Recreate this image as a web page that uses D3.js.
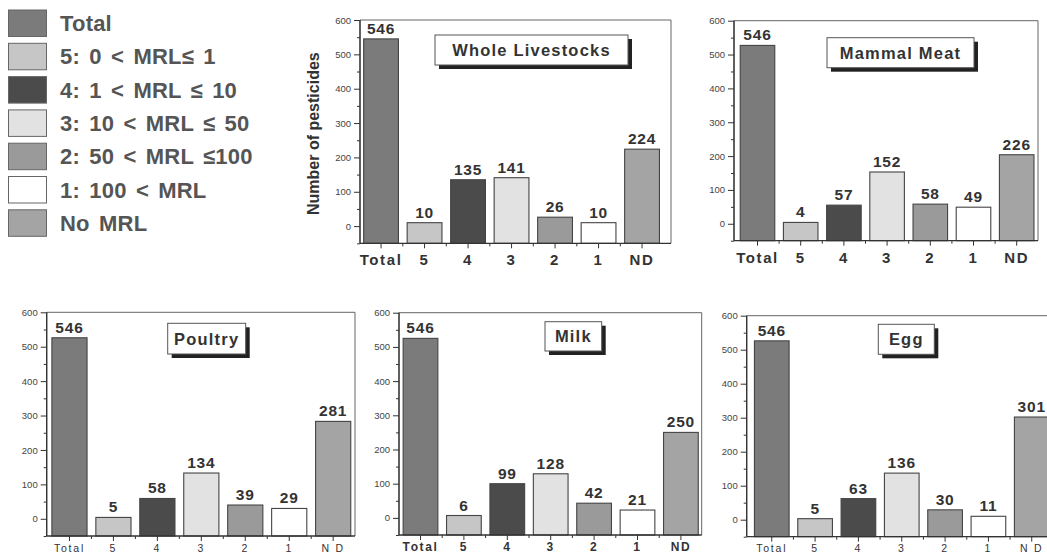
<!DOCTYPE html>
<html>
<head>
<meta charset="utf-8">
<script src="https://cdn.jsdelivr.net/npm/d3@7"></script>
<style>
  body { margin: 0; background: #fff; }
  svg { display: block; font-family: "Liberation Sans", Arial, sans-serif; }
</style>
</head>
<body>
<svg id="chart" width="1047" height="554"></svg>
<script>
// Categories and tick values
const categories = ["Total", "5", "4", "3", "2", "1", "ND"];
const yTicks = [0, 100, 200, 300, 400, 500, 600];
const yMinorTicks = [-50, 50, 150, 250, 350, 450, 550];

// Legend
const legendLabels = ["Total", "5: 0 < MRL\u2264 1", "4: 1 < MRL \u2264 10", "3: 10 < MRL \u2264 50",
  "2: 50 < MRL \u2264100", "1: 100 < MRL", "No MRL"];

// Printed value labels, per panel
const labelsWhole = [546, 10, 135, 141, 26, 10, 224];
const labelsMammal = [546, 4, 57, 152, 58, 49, 226];
const labelsPoultry = [546, 5, 58, 134, 39, 29, 281];
const labelsMilk = [546, 6, 99, 128, 42, 21, 250];
const labelsEgg = [546, 5, 63, 136, 30, 11, 301];

// Bar heights as drawn in the picture
const barsWhole = [545, 10, 135, 141, 26, 10, 224];
const barsMammal = [527, 4, 55, 153, 58, 49, 204];
const barsPoultry = [526, 4, 59, 133, 40, 30, 283];
const barsMilk = [525, 7, 100, 129, 43, 23, 250];
const barsEgg = [526, 3, 62, 137, 29, 10, 302];

// Fill colours
const colors = ["#7b7b7b", "#c6c6c6", "#4b4b4b", "#e2e2e2", "#9a9a9a", "#ffffff", "#a4a4a4"];

const panels = [
  { title: "Whole Livestocks", labels: labelsWhole, bars: barsWhole,
    left: 360, right: 671, top: 20, bottom: 243.3, bandStart: 359.3, step: 43.5,
    box: [435, 35, 193, 30], bold: true, xFont: 15, xBase: 21.5, yLabel: "Number of pesticides" },
  { title: "Mammal Meat", labels: labelsMammal, bars: barsMammal,
    left: 734, right: 1038, top: 20.7, bottom: 240.7, bandStart: 735.9, step: 43.2,
    box: [827, 37.7, 147, 30], bold: true, xFont: 15, xBase: 22 },
  { title: "Poultry", labels: labelsPoultry, bars: barsPoultry,
    left: 46.7, right: 355, top: 312.3, bottom: 536, bandStart: 47.5, step: 43.95,
    box: [167.7, 323.3, 78, 30.7], bold: false, xFont: 10.5, xBase: 15.5 },
  { title: "Milk", labels: labelsMilk, bars: barsMilk,
    left: 399, right: 701.7, top: 312.7, bottom: 535, bandStart: 398.8, step: 43.4,
    box: [545, 321.7, 56.7, 29.3], bold: true, xFont: 12, xBase: 15.5 },
  { title: "Egg", labels: labelsEgg, bars: barsEgg,
    left: 746.7, right: 1062, top: 315.7, bottom: 536.7, bandStart: 750.1, step: 43.33,
    box: [878.3, 324.3, 56, 30], bold: false, xFont: 10.5, xBase: 15 }
];

const svg = d3.select("#chart");

// Legend
const legend = svg.append("g").attr("class", "legend");
legendLabels.forEach((lab, i) => {
  const yTop = 10 + i * 33.3;
  legend.append("rect")
    .attr("x", 8.5).attr("y", yTop)
    .attr("width", 38).attr("height", 26.5)
    .attr("fill", colors[i]).attr("stroke", "#666").attr("stroke-width", 1);
  legend.append("text")
    .attr("x", 60).attr("y", yTop + 21)
    .attr("font-size", 22).attr("font-weight", "bold")
    .attr("letter-spacing", 0.2)
    .attr("word-spacing", 3)
    .attr("fill", "#555")
    .text(lab);
});

panels.forEach(drawPanel);

function drawPanel(p) {
  const g = svg.append("g");

  const y = d3.scaleLinear().domain([-50, 600]).range([p.bottom, p.top]);
  const x = d3.scaleBand()
    .domain(categories)
    .range([p.bandStart, p.bandStart + p.step * categories.length])
    .paddingInner(0.2).paddingOuter(0.1);

  // Bars
  g.selectAll("rect.bar")
    .data(categories)
    .join("rect")
    .attr("class", "bar")
    .attr("x", (d) => x(d))
    .attr("width", x.bandwidth())
    .attr("y", (d, i) => y(p.bars[i]))
    .attr("height", (d, i) => p.bottom - y(p.bars[i]))
    .attr("fill", (d, i) => colors[i])
    .attr("stroke", "#444")
    .attr("stroke-width", 1.1);

  // Value labels
  g.selectAll("text.val")
    .data(categories)
    .join("text")
    .attr("class", "val")
    .attr("x", (d) => x(d) + x.bandwidth() / 2)
    .attr("y", (d, i) => y(p.bars[i]) - 5)
    .attr("text-anchor", "middle")
    .attr("font-size", 15.5).attr("font-weight", "bold")
    .attr("letter-spacing", 0.8)
    .attr("fill", "#333")
    .text((d, i) => p.labels[i]);

  // Frame
  g.append("path")
    .attr("d", `M${p.left},${p.bottom}V${p.top}H${p.right}V${p.bottom}`)
    .attr("fill", "none").attr("stroke", "#666").attr("stroke-width", 1);
  g.append("line")
    .attr("x1", p.left).attr("x2", p.right)
    .attr("y1", p.bottom).attr("y2", p.bottom)
    .attr("stroke", "#333").attr("stroke-width", 1.3);
  g.append("line")
    .attr("x1", p.left).attr("x2", p.left)
    .attr("y1", p.top).attr("y2", p.bottom)
    .attr("stroke", "#333").attr("stroke-width", 1.3);

  // Y axis
  const yAxis = g.append("g")
    .attr("transform", `translate(${p.left},0)`)
    .call(d3.axisLeft(y).tickValues(yTicks).tickSize(6).tickPadding(3));
  yAxis.select(".domain").remove();
  yAxis.selectAll("line").attr("stroke", "#333");
  yAxis.selectAll("text")
    .attr("font-size", 9.5).attr("fill", "#444")
    .attr("font-family", "Liberation Sans, Arial, sans-serif");

  const yMinor = g.append("g")
    .attr("transform", `translate(${p.left},0)`)
    .call(d3.axisLeft(y).tickValues(yMinorTicks).tickSize(3).tickFormat(""));
  yMinor.select(".domain").remove();
  yMinor.selectAll("line").attr("stroke", "#333");

  // X axis
  const xAxis = g.append("g")
    .attr("transform", `translate(0,${p.bottom})`)
    .call(d3.axisBottom(x).tickSize(5).tickFormat(""));
  xAxis.select(".domain").remove();
  xAxis.selectAll("line").attr("stroke", "#333");

  // minor ticks at band boundaries
  const gap = x.step() * x.paddingInner();
  const bounds = categories.slice(0, -1).map((c) => x(c) + x.bandwidth() + gap / 2);
  g.selectAll("line.xminor")
    .data(bounds)
    .join("line")
    .attr("class", "xminor")
    .attr("x1", (d) => d).attr("x2", (d) => d)
    .attr("y1", p.bottom).attr("y2", p.bottom + 3)
    .attr("stroke", "#333");

  g.selectAll("text.xlab")
    .data(categories)
    .join("text")
    .attr("class", "xlab")
    .attr("x", (d) => x(d) + x.bandwidth() / 2)
    .attr("y", p.bottom + p.xBase)
    .attr("text-anchor", "middle")
    .attr("font-size", p.xFont)
    .attr("font-weight", p.bold ? "bold" : "normal")
    .attr("letter-spacing", p.bold ? 1.6 : 1.8)
    .attr("fill", "#333")
    .text((d) => (p.bold ? d : d === "ND" ? "N D" : d));

  // Title box with shadow
  const [bx, by, bw, bh] = p.box;
  g.append("rect")
    .attr("x", bx + 4).attr("y", by + 4)
    .attr("width", bw).attr("height", bh)
    .attr("fill", "#222");
  g.append("rect")
    .attr("x", bx).attr("y", by)
    .attr("width", bw).attr("height", bh)
    .attr("fill", "#fff").attr("stroke", "#555").attr("stroke-width", 1);
  g.append("text")
    .attr("x", bx + bw / 2).attr("y", by + bh / 2 + 6)
    .attr("text-anchor", "middle")
    .attr("font-size", 16.5).attr("font-weight", "bold")
    .attr("letter-spacing", 1.2)
    .attr("fill", "#333")
    .text(p.title);

  // Y axis title
  if (p.yLabel) {
    g.append("text")
      .attr("transform", `translate(${p.left - 41},${(p.top + p.bottom) / 2 + 2}) rotate(-90)`)
      .attr("text-anchor", "middle")
      .attr("font-size", 16).attr("font-weight", "bold")
      .attr("fill", "#333")
      .text(p.yLabel);
  }
}
</script>
</body>
</html>
